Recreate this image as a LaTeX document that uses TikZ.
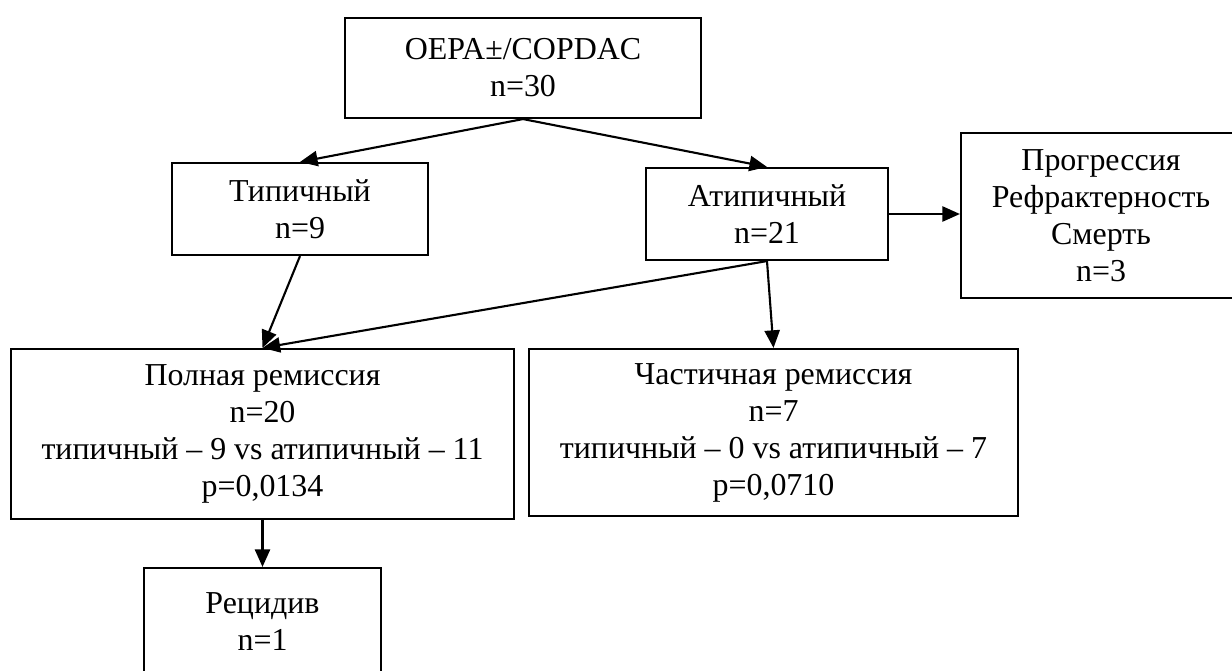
\documentclass[tikz,border=0pt]{standalone}
\usepackage{fontspec}
\setmainfont{Liberation Serif}
\usetikzlibrary{arrows.meta}

\begin{document}
\begin{tikzpicture}[x=0.025cm, y=-0.025cm, >={Triangle[length=0.44cm, width=0.38cm]},
    block/.style={draw, line width=1.5pt, fill=white, rectangle, inner sep=0pt, align=center,
        font=\fontsize{22.7}{26.3}\selectfont},
    link/.style={->, line width=1.5pt}]

    \useasboundingbox (0,0) rectangle (1232,671);

    % Nodes
    \node [block, minimum width=8.9cm, minimum height=2.5cm] (oepa) at (523,68) {OEPA±/COPDAC\\n=30};
    \node [block, minimum width=6.4cm, minimum height=2.3cm] (typ) at (300,209) {Типичный\\n=9};
    \node [block, minimum width=6.05cm, minimum height=2.3cm] (atyp) at (767,214) {Атипичный\\n=21};
    \node [block, minimum width=7cm, minimum height=4.125cm] (prog) at (1101,215.5) {Прогрессия\\Рефрактерность\\Смерть\\n=3};
    \node [block, minimum width=12.575cm, minimum height=4.25cm] (full_rem) at (262.5,434) {Полная ремиссия\\n=20\\типичный – 9 vs атипичный – 11\\p=0,0134};
    \node [block, minimum width=12.225cm, minimum height=4.175cm] (part_rem) at (773.5,432.5) {Частичная ремиссия\\n=7\\типичный – 0 vs атипичный – 7\\p=0,0710};
    \node [block, minimum width=5.925cm, minimum height=2.7cm] (relapse) at (262.5,622) {Рецидив\\n=1};

    % Arrows
    \draw [link] (oepa.south) -- (typ.north);
    \draw [link] (oepa.south) -- (atyp.north);
    \draw [link] (atyp.east) -- (atyp.east -| prog.west);
    \draw [link] (typ.south) -- (full_rem.north);
    \draw [link] (atyp.south) -- (full_rem.north);
    \draw [link] (atyp.south) -- (part_rem.north);
    \draw [link] (full_rem.south) -- (relapse.north);

\end{tikzpicture}
\end{document}
